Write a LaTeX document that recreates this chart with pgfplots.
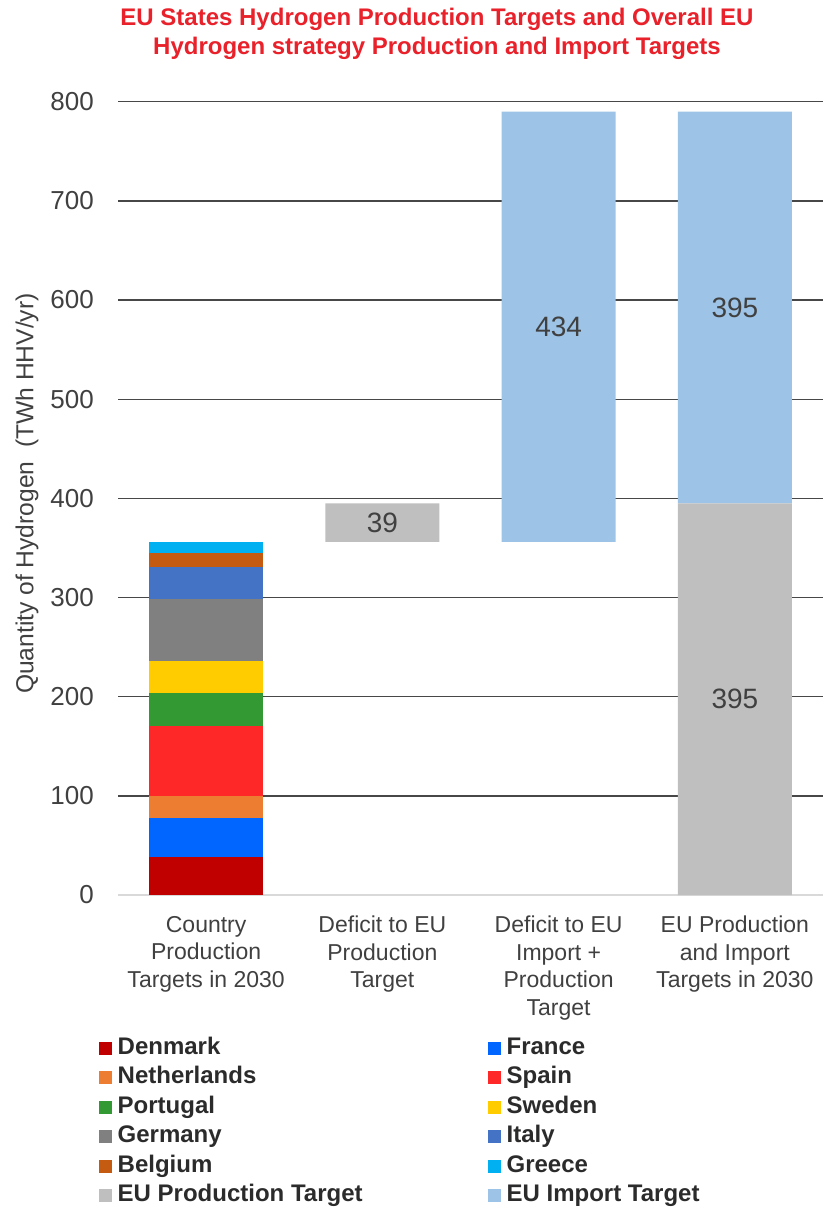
\documentclass[border=0pt]{standalone}
\usepackage{pgfplots}
\pgfplotsset{compat=1.18}
\usepackage{fontspec}
\setmainfont{Liberation Sans}
\definecolor{cDen}{HTML}{C00000}
\definecolor{cFra}{HTML}{0066FF}
\definecolor{cNet}{HTML}{ED7D31}
\definecolor{cSpa}{HTML}{FF2828}
\definecolor{cPor}{HTML}{339933}
\definecolor{cSwe}{HTML}{FFCC00}
\definecolor{cGer}{HTML}{808080}
\definecolor{cIta}{HTML}{4472C4}
\definecolor{cBel}{HTML}{C55A11}
\definecolor{cGre}{HTML}{00B0F0}
\definecolor{cEUP}{HTML}{BFBFBF}
\definecolor{cEUI}{HTML}{9DC3E6}
\definecolor{titlered}{HTML}{E8212B}
\definecolor{txt}{HTML}{404040}
\definecolor{legtxt}{HTML}{2B2B2B}
\begin{document}
\begin{tikzpicture}
\useasboundingbox (0,0) rectangle (823bp,-1208bp);
\node[align=center, font=\bfseries\fontsize{24bp}{29bp}\selectfont, text=titlered, inner sep=0pt] at (437bp,-34bp) {EU States Hydrogen Production Targets and Overall EU\\Hydrogen strategy Production and Import Targets};
\begin{axis}[
  at={(118bp,-895bp)}, anchor=south west,
  width=705bp, height=793.3bp, scale only axis,
  ybar stacked, bar width=114bp,
  xmin=-0.5, xmax=3.5, ymin=0, ymax=800,
  xtick={0,1,2,3},
  xticklabels={{Country\\Production\\Targets in 2030},{Deficit to EU\\Production\\Target},{Deficit to EU\\Import +\\Production\\Target},{EU Production\\and Import\\Targets in 2030}},
  xticklabel style={align=center, anchor=north, inner sep=0pt, yshift=-21bp, text=txt, font=\fontsize{23bp}{27.4bp}\selectfont},
  ytick={100,200,...,800},
  extra y ticks={0},
  extra y tick style={grid style={line width=1.4bp, color=black!15}},
  yticklabel style={anchor=east, inner sep=0pt, xshift=-24bp, text=txt, font=\fontsize{26bp}{30bp}\selectfont},
  /pgf/number format/assume math mode=true,
  ymajorgrids, grid style={line width=1.4bp, color=black!72},
  axis line style={draw=none}, major tick length=0pt,
  ylabel={Quantity of Hydrogen~ (TWh HHV/yr)},
  every axis y label/.style={at={(axis description cs:-0.1291,0.506)}, rotate=90, anchor=center, text=txt, font=\fontsize{24.6bp}{28bp}\selectfont},
  legend columns=2,
  legend cell align=left,
  legend image code/.code={\fill[#1] (0bp,-6.5bp) rectangle (13bp,6.5bp);},
  legend style={at={(-19bp,-142bp)}, anchor=north west, draw=none, fill=none, inner sep=0pt,
    font=\bfseries\fontsize{24bp}{28bp}\selectfont, text=legtxt, row sep=7.5bp,
    nodes={inner xsep=5.5bp, inner ysep=0pt, text height=17bp, text depth=5bp},
    /tikz/every even column/.append style={column sep=120bp}},
]
\addplot[fill=cDen, draw=none] coordinates {(0,38) (1,0) (2,0) (3,0)};
\addlegendentry{Denmark}
\addplot[fill=cFra, draw=none] coordinates {(0,40) (1,0) (2,0) (3,0)};
\addlegendentry{France}
\addplot[fill=cNet, draw=none] coordinates {(0,22) (1,0) (2,0) (3,0)};
\addlegendentry{Netherlands}
\addplot[fill=cSpa, draw=none] coordinates {(0,70) (1,0) (2,0) (3,0)};
\addlegendentry{Spain}
\addplot[fill=cPor, draw=none] coordinates {(0,34) (1,0) (2,0) (3,0)};
\addlegendentry{Portugal}
\addplot[fill=cSwe, draw=none] coordinates {(0,32) (1,0) (2,0) (3,0)};
\addlegendentry{Sweden}
\addplot[fill=cGer, draw=none] coordinates {(0,63) (1,0) (2,0) (3,0)};
\addlegendentry{Germany}
\addplot[fill=cIta, draw=none] coordinates {(0,32) (1,0) (2,0) (3,0)};
\addlegendentry{Italy}
\addplot[fill=cBel, draw=none] coordinates {(0,14) (1,0) (2,0) (3,0)};
\addlegendentry{Belgium}
\addplot[fill=cGre, draw=none] coordinates {(0,11) (1,0) (2,0) (3,0)};
\addlegendentry{Greece}
\addplot[fill=none, draw=none, forget plot] coordinates {(0,0) (1,356) (2,356) (3,0)};
\addplot[fill=cEUP, draw=none] coordinates {(0,0) (1,39) (2,0) (3,395)};
\addlegendentry{EU Production Target}
\addplot[fill=cEUI, draw=none] coordinates {(0,0) (1,0) (2,434) (3,395)};
\addlegendentry{EU Import Target}
\coordinate (lA) at (axis cs:1,375.5);
\coordinate (lB) at (axis cs:2,573);
\coordinate (lC) at (axis cs:3,592.5);
\coordinate (lD) at (axis cs:3,197.5);
\end{axis}
\begin{scope}[every node/.style={text=txt, font=\fontsize{28bp}{32bp}\selectfont}]
\node at (lA) {39};
\node at (lB) {434};
\node at (lC) {395};
\node at (lD) {395};
\end{scope}
\end{tikzpicture}
\end{document}
